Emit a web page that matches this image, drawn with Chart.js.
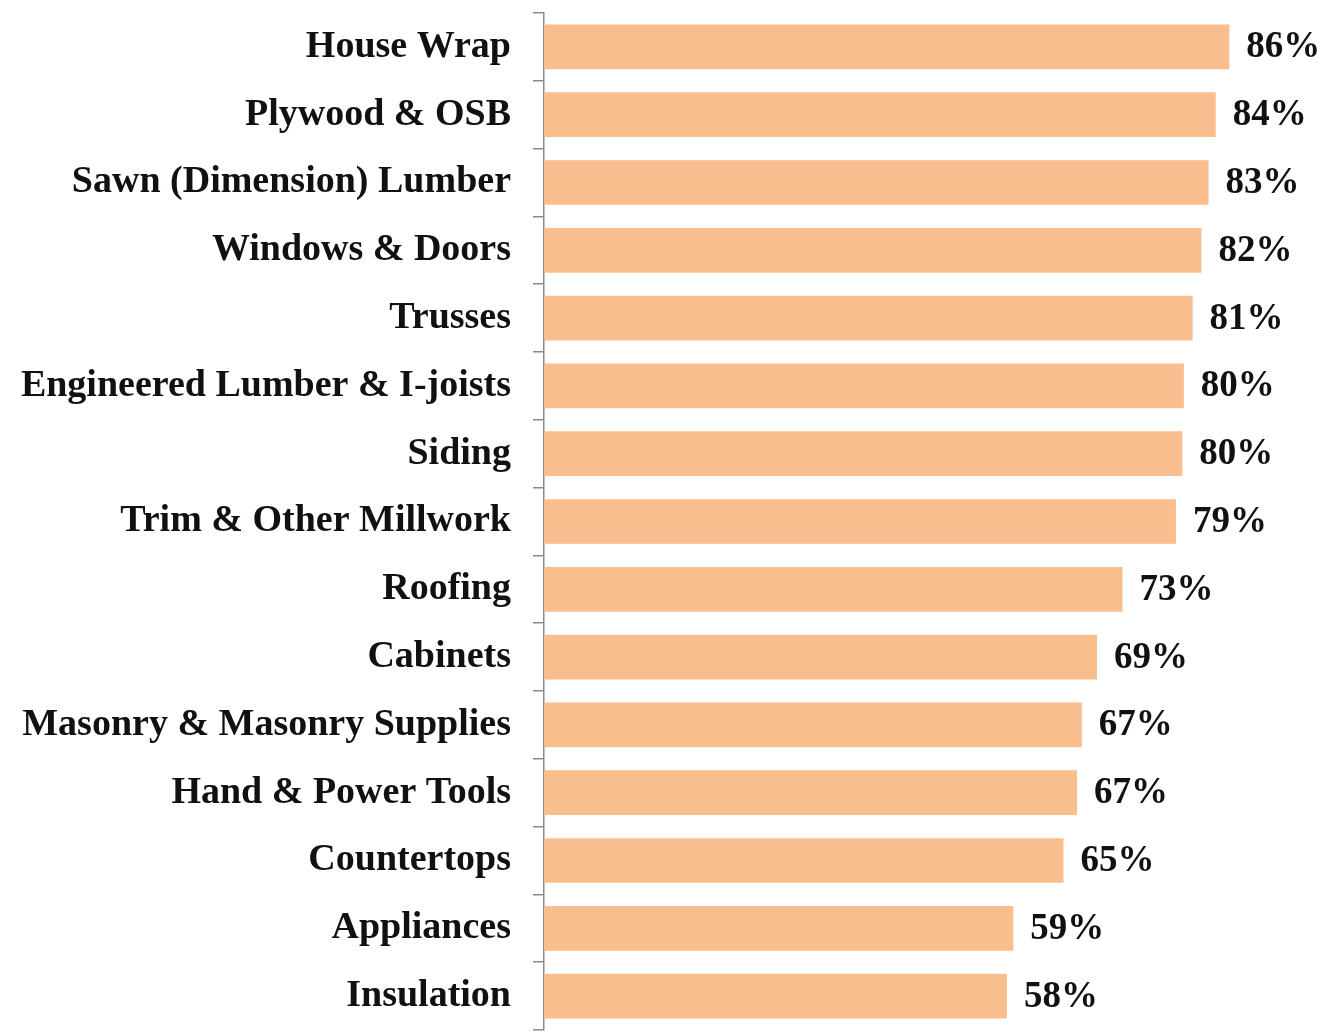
<!DOCTYPE html>
<html><head><meta charset="utf-8">
<script src="https://cdn.jsdelivr.net/npm/chart.js@4"></script>
<style>html,body{margin:0;padding:0;background:#fff;}#wrap{width:1327px;height:1034px;position:relative;}</style>
</head><body><div id="wrap"><canvas id="c"></canvas></div>
<script>
const categories = ["House Wrap","Plywood & OSB","Sawn (Dimension) Lumber","Windows & Doors","Trusses","Engineered Lumber & I-joists","Siding","Trim & Other Millwork","Roofing","Cabinets","Masonry & Masonry Supplies","Hand & Power Tools","Countertops","Appliances","Insulation"];
const values = [86.0,84.3,83.4,82.5,81.4,80.3,80.1,79.3,72.6,69.4,67.5,66.9,65.2,58.9,58.1];
const valueLabels = ["86%","84%","83%","82%","81%","80%","80%","79%","73%","69%","67%","67%","65%","59%","58%"];

const labelPlugin = {
  id: 'vals',
  afterDatasetsDraw(chart) {
    const ctx = chart.ctx;
    const meta = chart.getDatasetMeta(0);
    ctx.save();
    ctx.font = 'bold 37px "Liberation Serif", "Times New Roman", serif';
    ctx.fillStyle = '#111';
    ctx.textAlign = 'left';
    ctx.textBaseline = 'middle';
    meta.data.forEach((bar, i) => {
      ctx.fillText(valueLabels[i], bar.x + 17, bar.y + 1);
    });
    ctx.restore();
  }
};

new Chart(document.getElementById('c'), {
  type: 'bar',
  data: { labels: categories, datasets: [{ data: values, backgroundColor: '#F8BE8E', borderWidth: 0, barPercentage: 0.66, categoryPercentage: 1 }] },
  options: {
    indexAxis: 'y',
    responsive: true, maintainAspectRatio: false, animation: false,
    layout: { padding: { top: 13, bottom: 4, right: 30, left: 0 } },
    plugins: { legend: { display: false }, tooltip: { enabled: false } },
    scales: {
      x: { display: false, min: 0, max: 94.5 },
      y: {
        afterFit(s) { s.width = 544; s.paddingTop = 0; s.paddingBottom = 0; },
        border: { display: true, color: '#8a8a8a', width: 1.5 },
        grid: { display: true, offset: true, drawOnChartArea: false, drawTicks: true, tickLength: 11, color: '#8a8a8a', lineWidth: 1.5 },
        ticks: { color: '#111', padding: 22, font: { family: '"Liberation Serif", "Times New Roman", serif', weight: 'bold', size: 38 } }
      }
    }
  },
  plugins: [labelPlugin]
});
</script></body></html>
